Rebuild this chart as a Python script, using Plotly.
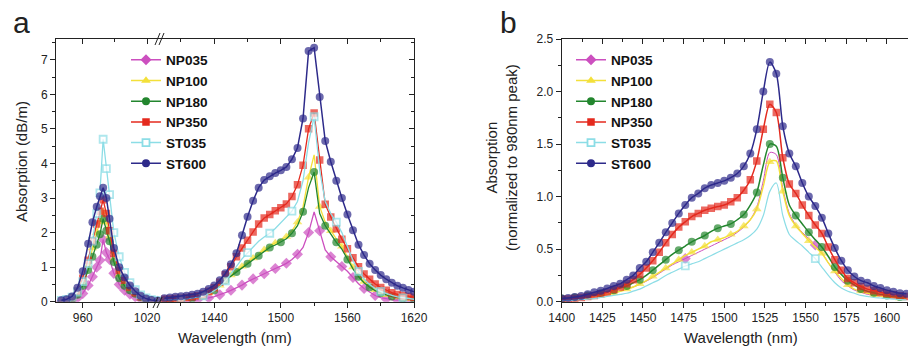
import plotly.graph_objects as go

# ---------------- data ----------------
SERIES = ["NP035", "NP100", "NP180", "NP350", "ST035", "ST600"]

# panel a, left segment (980 nm band)
WL_A1 = [940, 945, 950, 955, 960, 965, 969, 973, 976, 979, 982, 985, 989, 994, 999, 1004, 1009, 1014, 1019, 1024, 1030]
A1_NP035 = [0.01, 0.02, 0.05, 0.11, 0.24, 0.47, 0.72, 1.00, 1.20, 1.80, 1.42, 1.22, 0.82, 0.50, 0.33, 0.22, 0.14, 0.08, 0.04, 0.02, 0.01]
A1_NP100 = [0.02, 0.05, 0.10, 0.25, 0.55, 1.05, 1.55, 2.00, 2.30, 2.60, 2.30, 1.90, 1.25, 0.78, 0.52, 0.36, 0.24, 0.13, 0.07, 0.04, 0.02]
A1_NP180 = [0.02, 0.04, 0.08, 0.20, 0.46, 0.92, 1.30, 1.65, 1.95, 2.40, 2.05, 1.75, 1.15, 0.68, 0.46, 0.33, 0.23, 0.13, 0.07, 0.04, 0.02]
A1_NP350 = [0.03, 0.06, 0.12, 0.30, 0.68, 1.20, 1.75, 2.25, 2.62, 2.95, 2.55, 2.05, 1.40, 0.90, 0.62, 0.42, 0.26, 0.14, 0.07, 0.04, 0.03]
A1_ST035 = [0.04, 0.07, 0.13, 0.28, 0.58, 1.10, 1.75, 2.55, 3.15, 4.70, 3.85, 3.10, 2.00, 1.30, 0.85, 0.55, 0.35, 0.20, 0.11, 0.06, 0.04]
A1_ST600 = [0.04, 0.07, 0.15, 0.40, 0.88, 1.68, 2.30, 2.75, 3.05, 3.30, 3.00, 2.40, 1.55, 1.00, 0.70, 0.47, 0.30, 0.17, 0.09, 0.05, 0.03]

# panel a, right segment (1530 nm band)
WL_A2 = [1395, 1400, 1405, 1410, 1415, 1420, 1425, 1430, 1435, 1440,
         1445, 1450, 1455, 1460, 1465, 1470, 1475, 1480, 1485, 1490,
         1495, 1500, 1505, 1510, 1515, 1520, 1525, 1530, 1535, 1540,
         1545, 1550, 1555, 1560, 1565, 1570, 1575, 1580, 1585, 1590,
         1595, 1600, 1605, 1610, 1615, 1620]
A2_NP035 = [0.02, 0.02, 0.02, 0.03, 0.03, 0.04, 0.06, 0.08, 0.11, 0.15,
            0.20, 0.26, 0.33, 0.40, 0.48, 0.58, 0.66, 0.73, 0.81, 0.88,
            0.96, 1.03, 1.11, 1.22, 1.37, 1.57, 2.00, 2.60, 2.05, 1.50,
            1.30, 1.16, 1.02, 0.88, 0.70, 0.52, 0.38, 0.27, 0.18, 0.12,
            0.08, 0.06, 0.05, 0.04, 0.03, 0.03]
A2_NP100 = [0.05, 0.05, 0.06, 0.07, 0.08, 0.10, 0.13, 0.18, 0.25, 0.34,
            0.47, 0.64, 0.77, 0.90, 1.02, 1.14, 1.26, 1.38, 1.50, 1.62,
            1.70, 1.78, 1.88, 2.05, 2.30, 2.75, 3.60, 4.25, 2.75, 2.30,
            2.05, 1.82, 1.60, 1.30, 1.00, 0.76, 0.58, 0.44, 0.34, 0.26,
            0.20, 0.16, 0.13, 0.10, 0.08, 0.07]
A2_NP180 = [0.05, 0.05, 0.06, 0.07, 0.08, 0.10, 0.13, 0.18, 0.25, 0.33,
            0.45, 0.62, 0.74, 0.86, 0.99, 1.10, 1.21, 1.33, 1.45, 1.57,
            1.64, 1.72, 1.82, 1.98, 2.20, 2.60, 3.30, 3.75, 2.55, 2.20,
            1.95, 1.72, 1.52, 1.22, 0.95, 0.72, 0.55, 0.42, 0.32, 0.25,
            0.19, 0.15, 0.12, 0.10, 0.08, 0.07]
A2_NP350 = [0.07, 0.08, 0.09, 0.10, 0.12, 0.14, 0.17, 0.22, 0.30, 0.40,
            0.56, 0.78, 1.01, 1.30, 1.55, 1.78, 2.02, 2.25, 2.42, 2.52,
            2.63, 2.72, 2.83, 3.04, 3.38, 3.95, 5.00, 5.46, 4.10, 2.82,
            2.45, 2.11, 1.81, 1.53, 1.27, 1.01, 0.80, 0.65, 0.51, 0.41,
            0.33, 0.26, 0.21, 0.18, 0.15, 0.13]
A2_ST035 = [0.05, 0.05, 0.06, 0.07, 0.08, 0.10, 0.13, 0.17, 0.23, 0.32,
            0.44, 0.60, 0.80, 1.02, 1.24, 1.42, 1.60, 1.75, 1.87, 1.98,
            2.12, 2.28, 2.45, 2.62, 2.90, 3.50, 4.60, 5.35, 3.80, 2.90,
            2.55, 2.30, 2.00, 1.60, 1.20, 0.88, 0.65, 0.50, 0.38, 0.30,
            0.23, 0.18, 0.14, 0.11, 0.09, 0.07]
A2_ST600 = [0.10, 0.12, 0.14, 0.16, 0.17, 0.20, 0.23, 0.29, 0.37, 0.47,
            0.62, 0.82, 1.08, 1.40, 1.92, 2.46, 2.92, 3.30, 3.52, 3.63,
            3.72, 3.80, 3.90, 4.12, 4.45, 5.30, 7.25, 7.35, 5.92, 4.65,
            4.05, 3.50, 3.00, 2.52, 2.07, 1.65, 1.35, 1.10, 0.92, 0.77,
            0.65, 0.55, 0.46, 0.40, 0.34, 0.29]

# panel b (normalized)
WL_B = [1400, 1404, 1408, 1412, 1416, 1420, 1424, 1428, 1432, 1436,
        1440, 1444, 1448, 1452, 1456, 1460, 1464, 1468, 1472, 1476,
        1480, 1484, 1488, 1492, 1496, 1500, 1504, 1508, 1512, 1516,
        1520, 1524, 1528, 1532, 1536, 1540, 1544, 1548, 1552, 1556,
        1560, 1564, 1568, 1572, 1576, 1580, 1584, 1588, 1592, 1596,
        1600, 1604, 1608, 1612]
B_NP035 = [0.020, 0.025, 0.030, 0.035, 0.040, 0.050, 0.060, 0.070, 0.085, 0.100,
           0.12, 0.14, 0.165, 0.195, 0.23, 0.27, 0.31, 0.35, 0.38, 0.41,
           0.44, 0.47, 0.50, 0.53, 0.56, 0.59, 0.62, 0.66, 0.71, 0.78,
           0.90, 1.15, 1.42, 1.40, 1.08, 0.84, 0.73, 0.66, 0.60, 0.54,
           0.47, 0.37, 0.28, 0.20, 0.15, 0.11, 0.09, 0.07, 0.06, 0.05,
           0.04, 0.035, 0.03, 0.025]
B_NP100 = [0.020, 0.025, 0.030, 0.035, 0.040, 0.050, 0.060, 0.070, 0.085, 0.100,
           0.12, 0.14, 0.17, 0.20, 0.24, 0.28, 0.32, 0.36, 0.40, 0.44,
           0.47, 0.50, 0.53, 0.57, 0.59, 0.61, 0.64, 0.67, 0.72, 0.78,
           0.88, 1.10, 1.33, 1.34, 1.05, 0.82, 0.72, 0.65, 0.58, 0.52,
           0.46, 0.37, 0.29, 0.22, 0.16, 0.12, 0.10, 0.08, 0.065, 0.055,
           0.045, 0.04, 0.035, 0.03]
B_NP180 = [0.030, 0.035, 0.040, 0.050, 0.060, 0.070, 0.080, 0.095, 0.110, 0.130,
           0.15, 0.18, 0.21, 0.25, 0.30, 0.35, 0.40, 0.45, 0.49, 0.53,
           0.57, 0.60, 0.63, 0.67, 0.70, 0.72, 0.74, 0.78, 0.83, 0.92,
           1.04, 1.30, 1.50, 1.48, 1.18, 0.92, 0.82, 0.74, 0.66, 0.59,
           0.52, 0.43, 0.33, 0.26, 0.20, 0.16, 0.12, 0.10, 0.085, 0.07,
           0.06, 0.05, 0.045, 0.04]
B_NP350 = [0.020, 0.025, 0.030, 0.040, 0.050, 0.060, 0.075, 0.090, 0.115, 0.140,
           0.17, 0.21, 0.26, 0.32, 0.39, 0.47, 0.56, 0.64, 0.71, 0.76,
           0.81, 0.84, 0.87, 0.89, 0.905, 0.92, 0.95, 0.99, 1.06, 1.16,
           1.34, 1.64, 1.88, 1.80, 1.37, 1.12, 1.03, 0.92, 0.82, 0.73,
           0.65, 0.52, 0.40, 0.30, 0.22, 0.18, 0.145, 0.12, 0.105, 0.09,
           0.077, 0.065, 0.056, 0.05]
B_ST035 = [0.010, 0.012, 0.015, 0.020, 0.025, 0.030, 0.040, 0.050, 0.060, 0.070,
           0.08, 0.10, 0.12, 0.15, 0.18, 0.21, 0.25, 0.28, 0.31, 0.34,
           0.36, 0.38, 0.41, 0.44, 0.47, 0.50, 0.53, 0.56, 0.59, 0.63,
           0.69, 0.82, 1.05, 1.13, 0.82, 0.64, 0.58, 0.53, 0.47, 0.41,
           0.33, 0.25, 0.18, 0.13, 0.10, 0.08, 0.06, 0.05, 0.04, 0.035,
           0.03, 0.025, 0.02, 0.018]
B_ST600 = [0.030, 0.035, 0.045, 0.055, 0.070, 0.090, 0.105, 0.125, 0.150, 0.170,
           0.21, 0.25, 0.32, 0.38, 0.47, 0.56, 0.66, 0.75, 0.84, 0.92,
           0.99, 1.03, 1.08, 1.11, 1.13, 1.15, 1.18, 1.22, 1.29, 1.41,
           1.64, 2.00, 2.28, 2.17, 1.67, 1.41, 1.29, 1.13, 1.00, 0.91,
           0.80, 0.65, 0.51, 0.39, 0.30, 0.24, 0.20, 0.18, 0.15, 0.13,
           0.11, 0.095, 0.08, 0.075]

A1 = {"NP035": A1_NP035, "NP100": A1_NP100, "NP180": A1_NP180, "NP350": A1_NP350, "ST035": A1_ST035, "ST600": A1_ST600}
A2 = {"NP035": A2_NP035, "NP100": A2_NP100, "NP180": A2_NP180, "NP350": A2_NP350, "ST035": A2_ST035, "ST600": A2_ST600}
B = {"NP035": B_NP035, "NP100": B_NP100, "NP180": B_NP180, "NP350": B_NP350, "ST035": B_ST035, "ST600": B_ST600}

# ---------------- style ----------------
FONT = "Liberation Sans, Arial, Helvetica, sans-serif"
W, H = 908, 347
INK = "#222222"

STYLE = {
    "NP035": dict(color="#CC4FBF", symbol="diamond", size=8.5, lwa=1.3, lwb=1.0),
    "NP100": dict(color="#F3E03A", symbol="triangle-up", size=8.5, lwa=1.3, lwb=1.5),
    "NP180": dict(color="#23862E", symbol="circle", size=8, lwa=1.3, lwb=1.5),
    "NP350": dict(color="#E42A1E", symbol="square", size=7.5, lwa=1.3, lwb=1.5),
    "ST035": dict(color="#8CDDE6", symbol="square", size=7, lwa=1.3, lwb=1.2),
    "ST600": dict(color="#2D2A8A", symbol="circle", size=8, lwa=1.5, lwb=1.5),
}
# marker every `step` points, starting at `off`
MK_A1 = {"NP035": (1, 0), "NP100": (1, 0), "NP180": (1, 0), "NP350": (1, 0), "ST035": (1, 0), "ST600": (1, 0)}
MK_A2 = {"NP035": (2, 0), "NP100": (2, 0), "NP180": (2, 1), "NP350": (1, 0), "ST035": (4, 3), "ST600": (1, 0)}
MK_B = {"NP035": (20, 19), "NP100": (2, 0), "NP180": (2, 0), "NP350": (1, 0), "ST035": (20, 19), "ST600": (1, 0)}


def px(x):
    return x / W


def py(y):
    return 1 - y / H


XA0, XBRK, XA1 = 56, 161, 414
XB0 = 561.7
YT, YB = 39, 301.7


def marker(name, n, step, off):
    st = STYLE[name]
    on = [((i - off) % step == 0) for i in range(n)]
    sizes = [st["size"] if o else 0 for o in on]
    if name == "ST035":
        return dict(symbol=st["symbol"], size=sizes, color="white",
                    line=dict(color=st["color"], width=[1.8 if o else 0 for o in on]))
    return dict(symbol=st["symbol"], size=sizes, color=st["color"], line=dict(width=0))


fig = go.Figure()

for name in SERIES:
    st = STYLE[name]
    fig.add_trace(go.Scatter(x=WL_A1, y=A1[name], mode="lines+markers", xaxis="x", yaxis="y",
                             line=dict(color=st["color"], width=st["lwa"]),
                             marker=marker(name, len(WL_A1), *MK_A1[name]), showlegend=False))
    fig.add_trace(go.Scatter(x=WL_A2, y=A2[name], mode="lines+markers", xaxis="x3", yaxis="y",
                             line=dict(color=st["color"], width=st["lwa"]),
                             marker=marker(name, len(WL_A2), *MK_A2[name]), showlegend=False))
    fig.add_trace(go.Scatter(x=WL_B, y=B[name], mode="lines+markers", xaxis="x2", yaxis="y2",
                             line=dict(color=st["color"], width=st["lwb"], shape="spline", smoothing=0.8),
                             marker=marker(name, len(WL_B), *MK_B[name]), showlegend=False))

# legend entries
for leg, xa, ya in (("legend", "x", "y"), ("legend2", "x2", "y2")):
    for name in SERIES:
        st = STYLE[name]
        if name == "ST035":
            mk = dict(symbol=st["symbol"], size=st["size"], color="white", line=dict(color=st["color"], width=1.8))
        else:
            mk = dict(symbol=st["symbol"], size=st["size"], color=st["color"], line=dict(width=0))
        fig.add_trace(go.Scatter(x=[None], y=[None], mode="lines+markers", xaxis=xa, yaxis=ya,
                                 name="<b>%s</b>" % name, legend=leg,
                                 line=dict(color=st["color"], width=1.5), marker=mk))

tickfont = dict(size=12, family=FONT, color=INK)
base = dict(showline=True, linecolor=INK, linewidth=1, showgrid=False, zeroline=False, automargin=False,
            tickcolor=INK, tickwidth=1, tickfont=tickfont, fixedrange=True)
ydom = [py(YB), py(YT)]


def xaxis(dom, rng, t0, dt, mdt, top=False, anchor="y", overlay=None):
    d = dict(base, domain=dom, range=rng, anchor=anchor, tickmode="linear", tick0=t0, dtick=dt,
             ticks="inside" if top else "outside", ticklen=5,
             minor=dict(dtick=mdt, ticklen=3, ticks="inside" if top else "outside", tickcolor=INK))
    if top:
        d.update(side="top", showticklabels=False, overlaying=overlay)
    return d


fig.update_layout(
    template="none",
    width=W, height=H, margin=dict(l=0, r=0, t=0, b=0, pad=0),
    paper_bgcolor="white", plot_bgcolor="white",
    font=dict(family=FONT, color=INK),
    xaxis=xaxis([px(XA0), px(XBRK)], [935, 1033], 960, 60, 30),
    xaxis3=xaxis([px(XBRK), px(XA1)], [1392, 1620], 1440, 60, 30),
    xaxis4=xaxis([px(XA0), px(XBRK)], [935, 1033], 960, 60, 30, top=True, overlay="x"),
    xaxis5=xaxis([px(XBRK), px(XA1)], [1392, 1620], 1440, 60, 30, top=True, overlay="x3"),
    yaxis=dict(base, domain=ydom, range=[0, 7.6], anchor="x", tickmode="linear", tick0=0, dtick=1,
               ticks="outside", ticklen=5,
               minor=dict(dtick=0.5, ticklen=3, ticks="outside", tickcolor=INK)),
    yaxis3=dict(base, domain=ydom, range=[0, 7.6], anchor="x3", overlaying="y", side="right",
                tickmode="linear", tick0=0, dtick=1, ticks="inside", ticklen=5, showticklabels=False,
                minor=dict(dtick=0.5, ticklen=3, ticks="inside", tickcolor=INK)),
    xaxis2=xaxis([px(XB0), 1.0], [1400, 1613], 1400, 25, 12.5, anchor="y2"),
    xaxis6=xaxis([px(XB0), 1.0], [1400, 1613], 1400, 25, 12.5, top=True, anchor="y2", overlay="x2"),
    yaxis2=dict(base, domain=ydom, range=[0, 2.5], anchor="x2", tickmode="linear", tick0=0, dtick=0.5,
                tickformat=".1f", ticks="outside", ticklen=5,
                minor=dict(dtick=0.25, ticklen=3, ticks="outside", tickcolor=INK)),
    legend=dict(x=px(126), y=py(44.5), xanchor="left", yanchor="top", bgcolor="rgba(0,0,0,0)", borderwidth=0,
                font=dict(size=13.6, family=FONT, color="#111111"), tracegroupgap=0, itemclick=False),
    legend2=dict(x=px(571), y=py(44.5), xanchor="left", yanchor="top", bgcolor="rgba(0,0,0,0)", borderwidth=0,
                 font=dict(size=13.6, family=FONT, color="#111111"), tracegroupgap=0, itemclick=False),
    showlegend=True,
)

# dummy traces so the overlay axes exist
for xa, ya in (("x4", "y"), ("x5", "y"), ("x6", "y2"), ("x3", "y3")):
    fig.add_trace(go.Scatter(x=[None], y=[None], xaxis=xa, yaxis=ya, showlegend=False, hoverinfo="skip"))

# axis-break marks
for (xa, ya, xb, yb) in ((155, 45, 160, 33), (159, 45, 164, 33), (153, 308, 158, 297), (157, 308, 162, 297)):
    fig.add_shape(type="line", xref="paper", yref="paper", x0=px(xa), y0=py(ya), x1=px(xb), y1=py(yb),
                  line=dict(color=INK, width=1))

ann = [
    dict(text="a", x=px(21), y=py(22.6), size=30),
    dict(text="b", x=px(508), y=py(22.6), size=30),
    dict(text="Wavelength (nm)", x=px(235), y=py(337.5), size=15),
    dict(text="Wavelength (nm)", x=px(741), y=py(337.5), size=15),
]
for a in ann:
    fig.add_annotation(text=a["text"], x=a["x"], y=a["y"], xref="paper", yref="paper", showarrow=False,
                       xanchor="center", yanchor="middle", font=dict(size=a["size"], family=FONT, color=INK))
fig.add_annotation(text="Absorption (dB/m)", x=px(21), y=py(162), xref="paper", yref="paper", showarrow=False,
                   textangle=-90, xanchor="center", yanchor="middle", font=dict(size=15, family=FONT, color=INK))
fig.add_annotation(text="Absorption<br>(normalized to 980nm peak)", x=px(502), y=py(157), xref="paper", yref="paper",
                   showarrow=False, textangle=-90, xanchor="center", yanchor="middle",
                   font=dict(size=15, family=FONT, color=INK))

fig.write_html("out.html", config={"displayModeBar": False, "staticPlot": False},
               post_script="document.body.style.margin='0px';document.body.style.overflow='hidden';")
